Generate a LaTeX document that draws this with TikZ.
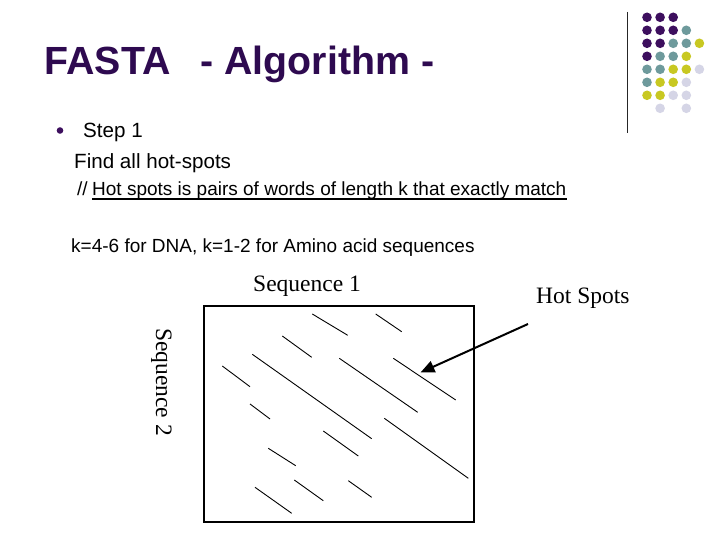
\documentclass[tikz,border=0pt]{standalone}
\usepackage{fontspec}
\setmainfont{Liberation Serif}
\newfontfamily\arialf{Liberation Sans}
\newfontfamily\tnrf{Liberation Serif}
\usetikzlibrary{arrows.meta}
\definecolor{titlepurple}{HTML}{2E0A50}
\definecolor{dpurple}{HTML}{3D0F5E}
\definecolor{dteal}{HTML}{6E9A9C}
\definecolor{dyellow}{HTML}{C8C822}
\definecolor{dlav}{HTML}{D5D5E6}
\tikzset{
  txt/.style={inner sep=0pt, anchor=base west, font=\arialf\fontsize{19bp}{22bp}\selectfont},
  bigtxt/.style={inner sep=0pt, anchor=base west, font=\arialf\fontsize{20.6bp}{24bp}\selectfont},
  serif/.style={inner sep=0pt, anchor=base west, font=\tnrf\fontsize{23.5bp}{27bp}\selectfont},
  seg/.style={line width=0.9bp},
  dotP/.style={fill=dpurple},
  dotT/.style={fill=dteal},
  dotY/.style={fill=dyellow},
  dotL/.style={fill=dlav},
  dotN/.style={fill=none}
}
\begin{document}
\begin{tikzpicture}[x=1bp,y=-1bp]
\useasboundingbox[fill=white] (0,0) rectangle (720,540);
% title
\node[inner sep=0pt, anchor=base west, text=titlepurple, font=\arialf\bfseries\fontsize{39.3bp}{44bp}\selectfont] (title) at (44.5,75) {FASTA\hspace{30bp}- Algorithm -};
% decorative dots
\foreach \row/\cols in {0/{P,P,P,N,N},1/{P,P,P,T,N},2/{P,P,T,T,Y},3/{P,T,T,Y,N},4/{T,T,Y,Y,L},5/{T,Y,Y,L,N},6/{Y,Y,L,L,N},7/{N,L,N,L,N}}{
  \foreach \c [count=\i from 0] in \cols {
    \path[dot\c] ({647+13.1*\i},{17.3+13*\row}) circle (4.8);
  }
}
\draw[line width=1bp, black!85] (627,12) -- (627,133);
% bullet and text
\fill[dpurple] (60,130.5) circle (3.3);
\node[bigtxt] (step) at (83,138) {Step 1};
\node[bigtxt] (find) at (74,169) {Find all hot-spots};
\node[txt] (sl) at (77,196) {//};
\node[txt] (hs) at (92,196) {Hot spots is pairs of words of length k that exactly match};
\draw[line width=1.2bp] ([yshift=-3bp]hs.base west) -- ([yshift=-3bp]hs.base east);
\node[txt] (kline) at (71,253) {k=4-6 for DNA, k=1-2 for Amino acid sequences};
% dot plot
\node[serif] (seq1) at (253,291) {Sequence 1};
\node[serif] (hot) at (536,303) {Hot Spots};
\node[inner sep=0pt, font=\tnrf\fontsize{23.5bp}{27bp}\selectfont, rotate=-90] (seq2) at (161.5,382) {Sequence 2};
\draw[line width=1.4bp] (204,306) rectangle (474,522);
\draw[seg] (312.3,314) -- (347.7,335.3);
\draw[seg] (375.7,314) -- (401.7,331.7);
\draw[seg] (282.3,336) -- (311.7,357.3);
\draw[seg] (252.3,354.3) -- (371.7,438.7);
\draw[seg] (339.3,358.3) -- (417.7,412.3);
\draw[seg] (393.3,358.3) -- (455.7,400);
\draw[seg] (222.3,366) -- (250,386.7);
\draw[seg] (250,404) -- (270,419);
\draw[seg] (384.3,418.3) -- (468.3,478.3);
\draw[seg] (323.3,431) -- (358.3,456);
\draw[seg] (268.3,448.3) -- (295.7,465.7);
\draw[seg] (294.3,480) -- (323.3,500.7);
\draw[seg] (348.3,480.7) -- (371.7,497.3);
\draw[seg] (255,487.3) -- (291.7,513.3);
% arrow
\coordinate (atail) at (528,324);
\coordinate (atip) at (420.5,372.5);
\draw[line width=2bp, -{Triangle[length=14bp,width=12bp]}] (atail) -- (atip);
\end{tikzpicture}
\end{document}
